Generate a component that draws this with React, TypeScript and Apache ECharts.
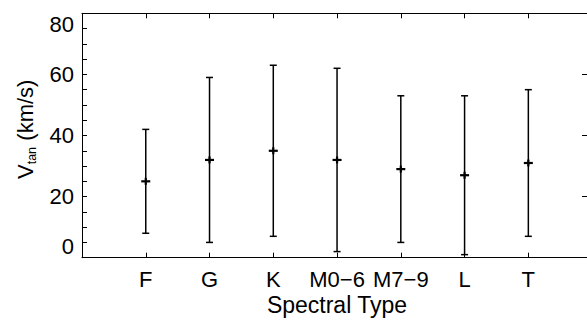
import React, { useEffect, useRef } from "react";
import * as echarts from "echarts";

const categories = ["F", "G", "K", "M0\u22126", "M7\u22129", "L", "T"];
const centers = [25, 32, 35, 32, 29, 27, 31];
const lows = [8, 5, 7, 2, 5, 1, 7];
const highs = [42, 59, 63, 62, 53, 53, 55];
const yMin = 0;
const yMax = 80;
const yStep = 20;
const xMin = 0;
const xMax = 7.92;

const FONT = "Liberation Sans, Arial, Helvetica, sans-serif";
const FS = 22;

export default function App() {
  const ref = useRef<HTMLDivElement>(null);
  useEffect(() => {
    document.body.style.margin = "0";
    const chart = echarts.init(ref.current!, null, { renderer: "svg" });
    const data = categories.map((c, i) => [i + 1, centers[i], lows[i], highs[i]]);
    const axisLine = { show: true, onZero: false, lineStyle: { color: "#000", width: 1 } };
    const xLabel = (v: number) => {
      const i = Math.round(v) - 1;
      return Math.abs(v - Math.round(v)) < 1e-6 && i >= 0 && i < categories.length ? categories[i] : "";
    };
    chart.setOption({
      animation: false,
      backgroundColor: "#fff",
      textStyle: { fontFamily: FONT },
      grid: { left: 82, top: 13.3, width: 506.5, height: 244.4, containLabel: false },
      xAxis: [
        {
          type: "value",
          position: "bottom",
          min: xMin,
          max: xMax,
          interval: 1,
          axisLine,
          axisTick: { show: true, inside: true, length: 5, lineStyle: { color: "#000" } },
          axisLabel: {
            show: true,
            formatter: xLabel,
            fontSize: FS,
            color: "#000",
            margin: 10.5,
            fontFamily: FONT,
            showMinLabel: false,
            showMaxLabel: false,
          },
          splitLine: { show: false },
        },
        {
          type: "value",
          position: "top",
          min: xMin,
          max: xMax,
          interval: 1,
          axisLine,
          axisTick: { show: true, inside: true, length: 5, lineStyle: { color: "#000" } },
          axisLabel: { show: false },
          splitLine: { show: false },
        },
      ],
      yAxis: [
        {
          type: "value",
          position: "left",
          min: yMin,
          max: yMax,
          interval: yStep,
          axisLine,
          axisTick: { show: true, inside: true, length: 5, lineStyle: { color: "#000" } },
          minorTick: { show: true, splitNumber: 4, length: 5, lineStyle: { color: "#000" } },
          axisLabel: {
            fontSize: FS,
            color: "#000",
            margin: 8,
            fontFamily: FONT,
            verticalAlignMinLabel: "bottom",
            verticalAlignMaxLabel: "top",
          },
          splitLine: { show: false },
          minorSplitLine: { show: false },
        },
        {
          type: "value",
          position: "right",
          min: yMin,
          max: yMax,
          interval: yStep,
          axisLine,
          axisTick: { show: true, inside: true, length: 5, lineStyle: { color: "#000" } },
          axisLabel: { show: false },
          splitLine: { show: false },
        },
      ],
      graphic: [
        {
          type: "text",
          x: 337,
          y: 305,
          style: {
            text: "Spectral Type",
            fontSize: 23,
            fontFamily: FONT,
            fill: "#000",
            align: "center",
            verticalAlign: "middle",
          },
        },
        {
          type: "group",
          x: 25,
          y: 130,
          rotation: Math.PI / 2,
          children: [
            {
              type: "text",
              x: -49,
              y: 0,
              style: { text: "V", fontSize: FS, fontFamily: FONT, fill: "#000", align: "left", verticalAlign: "middle" },
            },
            {
              type: "text",
              x: -34.3,
              y: 6.5,
              style: { text: "tan", fontSize: 12.5, fontFamily: FONT, fill: "#000", align: "left", verticalAlign: "middle" },
            },
            {
              type: "text",
              x: -16.8,
              y: 0,
              style: { text: " (km/s)", fontSize: FS, fontFamily: FONT, fill: "#000", align: "left", verticalAlign: "middle" },
            },
          ],
        },
      ],
      series: [
        {
          type: "custom",
          xAxisIndex: 0,
          yAxisIndex: 0,
          data,
          encode: { x: 0, y: [1, 2, 3] },
          renderItem: (params: any, api: any) => {
            const x = api.value(0);
            const pc = api.coord([x, api.value(1)]);
            const pl = api.coord([x, api.value(2)]);
            const ph = api.coord([x, api.value(3)]);
            const cap = 3.5;
            const pw = 4.5;
            const ph2 = 3.5;
            const s = { stroke: "#000", lineWidth: 1.5 };
            const sp = { stroke: "#000", lineWidth: 2.2 };
            return {
              type: "group",
              children: [
                { type: "line", shape: { x1: pc[0], y1: pl[1], x2: pc[0], y2: ph[1] }, style: s },
                { type: "line", shape: { x1: pc[0] - cap, y1: pl[1], x2: pc[0] + cap, y2: pl[1] }, style: s },
                { type: "line", shape: { x1: pc[0] - cap, y1: ph[1], x2: pc[0] + cap, y2: ph[1] }, style: s },
                { type: "line", shape: { x1: pc[0] - pw, y1: pc[1], x2: pc[0] + pw, y2: pc[1] }, style: sp },
                { type: "line", shape: { x1: pc[0], y1: pc[1] - ph2, x2: pc[0], y2: pc[1] + ph2 }, style: sp },
              ],
            };
          },
        },
      ],
    });
    return () => chart.dispose();
  }, []);
  return <div ref={ref} style={{ width: 587, height: 320 }} />;
}
